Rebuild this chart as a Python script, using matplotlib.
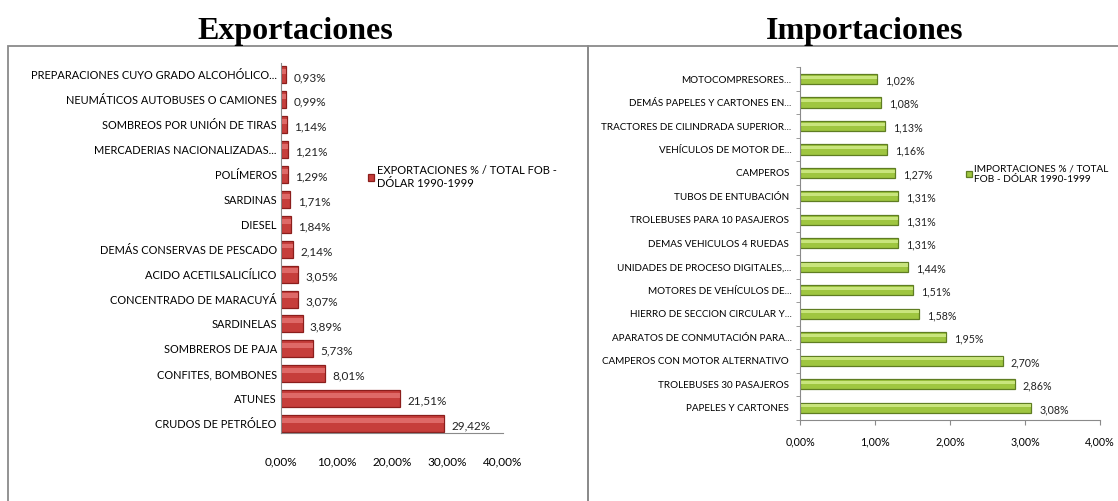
# Exportaciones / Importaciones 1990-1999, % del total FOB
from matplotlib import pyplot as plt
from matplotlib.patches import Rectangle
from matplotlib.ticker import FuncFormatter, FixedLocator

# data, ordered from bottom bar to top bar
exp_labels = ["CRUDOS DE PETRÓLEO", "ATUNES", "CONFITES, BOMBONES", "SOMBREROS DE PAJA",
              "SARDINELAS", "CONCENTRADO DE MARACUYÁ", "ACIDO ACETILSALICÍLICO",
              "DEMÁS CONSERVAS DE PESCADO", "DIESEL", "SARDINAS", "POLÍMEROS",
              "MERCADERIAS NACIONALIZADAS...", "SOMBREOS POR UNIÓN DE TIRAS",
              "NEUMÁTICOS AUTOBUSES O CAMIONES", "PREPARACIONES CUYO GRADO ALCOHÓLICO..."]
exp_values = [29.42, 21.51, 8.01, 5.73, 3.89, 3.07, 3.05, 2.14, 1.84, 1.71, 1.29, 1.21, 1.14, 0.99, 0.93]

imp_labels = ["PAPELES Y CARTONES ", "TROLEBUSES 30 PASAJEROS ", "CAMPEROS CON MOTOR ALTERNATIVO ",
              "APARATOS DE CONMUTACIÓN PARA...", "HIERRO DE SECCION CIRCULAR Y...",
              "MOTORES DE VEHÍCULOS DE...", "UNIDADES DE PROCESO DIGITALES,...",
              "DEMAS VEHICULOS 4 RUEDAS ", "TROLEBUSES PARA 10 PASAJEROS ",
              "TUBOS DE ENTUBACIÓN ", "CAMPEROS ", "VEHÍCULOS DE MOTOR DE...",
              "TRACTORES DE CILINDRADA SUPERIOR...", "DEMÁS PAPELES Y CARTONES EN...",
              "MOTOCOMPRESORES..."]
imp_values = [3.08, 2.86, 2.70, 1.95, 1.58, 1.51, 1.44, 1.31, 1.31, 1.31, 1.27, 1.16, 1.13, 1.08, 1.02]

exp_legend = "EXPORTACIONES % / TOTAL FOB -\nDÓLAR 1990-1999"
imp_legend = "IMPORTACIONES % / TOTAL\nFOB - DÓLAR 1990-1999"

plt.rcParams["font.family"] = ["Lato", "DejaVu Sans"]

W, H = 1118, 501
fig = plt.figure(figsize=(W / 100, H / 100), dpi=100)
fig.patch.set_facecolor("white")
frame_col = "#8a8a8a"


def pct(v, dec=2):
    return f"{v:.{dec}f}".replace(".", ",") + "%"


# panel frames
fig.add_artist(Rectangle((8 / W, -0.05), (588 - 8) / W, 1.05 - 46 / H, transform=fig.transFigure,
                         fill=False, edgecolor=frame_col, linewidth=1.3))
fig.add_artist(Rectangle((588 / W, -0.05), (W + 10 - 588) / W, 1.05 - 46 / H, transform=fig.transFigure,
                         fill=False, edgecolor=frame_col, linewidth=1.3))

fig.text(295 / W, 1 - 39 / H, "Exportaciones", ha="center", va="baseline",
         family="Liberation Serif", fontweight="bold", fontsize=23)
fig.text(865 / W, 1 - 39 / H, "Importaciones", ha="center", va="baseline",
         family="Liberation Serif", fontweight="bold", fontsize=23)

# ---- exportaciones
ax1 = fig.add_axes([281 / W, 1 - 433 / H, 222 / W, 370.5 / H])
y1 = list(range(len(exp_values)))
ax1.barh(y1, exp_values, height=0.68, color="#c63e3b", edgecolor="#8b1e1c", linewidth=0.9,
         label=exp_legend)
# light band on the top of each bar (cylinder look)
ax1.barh([y + 0.13 for y in y1], exp_values, height=0.2, color="#e97c7a", linewidth=0, alpha=0.7)
for y, v in zip(y1, exp_values):
    ax1.text(v + 1.3, y - 0.1, pct(v), va="center", ha="left", fontsize=8.5, color="#222222")
ax1.set_xlim(0, 40)
ax1.set_ylim(-0.38, 14.5)
ax1.set_yticks(y1)
ax1.set_yticklabels(exp_labels, fontsize=7.9)
ax1.xaxis.set_major_locator(FixedLocator([0, 10, 20, 30, 40]))
ax1.xaxis.set_major_formatter(FuncFormatter(lambda v, p: pct(v)))
ax1.tick_params(axis="x", length=0, labelsize=8.5, pad=17)
ax1.tick_params(axis="y", length=0, pad=3)
for s in ["top", "right"]:
    ax1.spines[s].set_visible(False)
for s in ["left", "bottom"]:
    ax1.spines[s].set_color(frame_col)
    ax1.spines[s].set_linewidth(0.8)
ax1.legend(loc="center left", bbox_to_anchor=(368 / W, 1 - 177 / H), bbox_transform=fig.transFigure,
           frameon=False, fontsize=8, handlelength=0.55, handleheight=0.55, handletextpad=0.25,
           borderpad=0, borderaxespad=0, labelspacing=0)

# ---- importaciones
ax2 = fig.add_axes([800 / W, 1 - 419.5 / H, 300 / W, 352.2 / H])
y2 = list(range(len(imp_values)))
ax2.barh(y2, imp_values, height=0.43, color="#9fc640", edgecolor="#5f7d22", linewidth=0.9,
         label=imp_legend)
ax2.barh([y + 0.08 for y in y2], imp_values, height=0.13, color="#d8f092", linewidth=0, alpha=0.75)
for y, v in zip(y2, imp_values):
    ax2.text(v + 0.11, y - 0.08, pct(v), va="center", ha="left", fontsize=7.7, color="#222222")
ax2.set_xlim(0, 4)
ax2.set_ylim(-0.5, 14.5)
ax2.set_yticks(y2)
ax2.set_yticklabels(imp_labels, fontsize=7.1)
ax2.yaxis.set_minor_locator(FixedLocator([i - 0.5 for i in range(len(imp_values) + 1)]))
ax2.xaxis.set_major_locator(FixedLocator([0, 1, 2, 3, 4]))
ax2.xaxis.set_major_formatter(FuncFormatter(lambda v, p: pct(v)))
ax2.tick_params(axis="x", length=3.5, color=frame_col, labelsize=7.7, pad=9)
ax2.tick_params(axis="y", which="major", length=0, pad=6)
ax2.tick_params(axis="y", which="minor", length=3, color=frame_col)
for s in ["top", "right"]:
    ax2.spines[s].set_visible(False)
for s in ["left", "bottom"]:
    ax2.spines[s].set_color(frame_col)
    ax2.spines[s].set_linewidth(0.8)
ax2.legend(loc="center left", bbox_to_anchor=(966 / W, 1 - 174 / H), bbox_transform=fig.transFigure,
           frameon=False, fontsize=7.3, handlelength=0.55, handleheight=0.55, handletextpad=0.25,
           borderpad=0, borderaxespad=0, labelspacing=0)

fig.savefig("out.png", dpi=100)
